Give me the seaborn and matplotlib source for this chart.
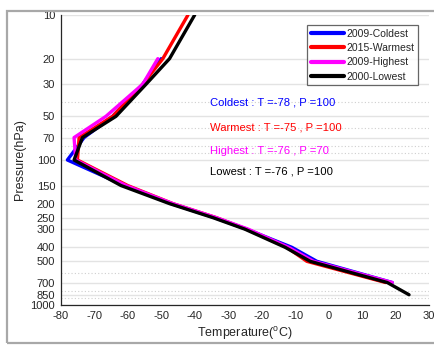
import numpy as np
import pandas as pd
import seaborn as sns
import matplotlib.pyplot as plt
from matplotlib.patches import Rectangle
from matplotlib.ticker import FixedLocator, FixedFormatter, NullFormatter

# Pressure levels (hPa) and temperature profiles (deg C)
p_levels = [850, 700, 500, 400, 300, 250, 200, 150, 100, 70, 50, 30, 20, 10]
coldest_2009 = [np.nan, 19, -3.5, -11, -24.5, -34, -47, -61, -78, -73, -64.5, -55.5, -50, np.nan]
warmest_2015 = [np.nan, 17, -6.5, -12.5, -24.5, -33.5, -46.5, -60, -75, -74.5, -64.5, -55.5, -49.5, -42]
highest_2009 = [np.nan, 19, -4.5, -12, -24, -33.5, -46.5, -60.5, -75.5, -76, -66.5, -55.5, -51, np.nan]
lowest_2000 = [24, 17.5, -5.5, -13, -25, -34.5, -47.5, -62, -76, -73.5, -63.5, -54.5, -47.5, -40]

series_names = ["2009-Coldest", "2015-Warmest", "2009-Highest", "2000-Lowest"]
series_colors = ["#0000ff", "#ff0000", "#ff00ff", "#000000"]

# Tropopause summaries
notes = ["Coldest : T =-78 , P =100", "Warmest : T =-75 , P =100",
         "Highest : T =-76 , P =70", "Lowest : T =-76 , P =100"]
note_pressure = [40, 60, 87, 120]

major_ticks = [10, 20, 30, 50, 70, 100, 150, 200, 250, 300, 400, 500, 700, 850, 1000]
minor_ticks = [40, 60, 80, 90, 600, 800, 900]
x_ticks = list(range(-80, 31, 10))

rows = []
for name, temps in zip(series_names, [coldest_2009, warmest_2015, highest_2009, lowest_2000]):
    for p, t in zip(p_levels, temps):
        if not np.isnan(t):
            rows.append({"Temperature": t, "Pressure": p, "Profile": name})
df = pd.DataFrame(rows)

sns.set_theme(style="white")
plt.rcParams["font.family"] = ["Liberation Sans", "DejaVu Sans"]
plt.rcParams["mathtext.fontset"] = "custom"
plt.rcParams["mathtext.rm"] = "Liberation Sans"
plt.rcParams["axes.unicode_minus"] = False

fig = plt.figure(figsize=(4.35, 3.45), dpi=100)
ax = fig.add_axes([0.1395, 0.116, 0.847, 0.8405])

# outer panel frame
fig.patches.append(Rectangle((0.017, 0.006), 1.2, 0.962, transform=fig.transFigure,
                             fill=False, edgecolor="#a8a8a8", linewidth=1.6, zorder=0))

sns.lineplot(data=df, x="Temperature", y="Pressure", hue="Profile",
             hue_order=series_names, palette=series_colors, estimator=None,
             sort=False, linewidth=2.4, ax=ax, legend=True)

ax.set_yscale("log")
ax.set_ylim(1000, 10)
ax.set_xlim(-80, 30)
ax.yaxis.set_major_locator(FixedLocator(major_ticks))
ax.yaxis.set_major_formatter(FixedFormatter([str(v) for v in major_ticks]))
ax.yaxis.set_minor_locator(FixedLocator(minor_ticks))
ax.yaxis.set_minor_formatter(NullFormatter())
ax.set_xticks(x_ticks)

ax.grid(False)
for v in major_ticks:
    ax.axhline(v, color="#e3e3e3", linewidth=1.0, zorder=0)
for v in minor_ticks:
    ax.axhline(v, color="#cfcfcf", linewidth=0.8, linestyle=(0, (1, 2)), zorder=0)

for s in ["top", "right"]:
    ax.spines[s].set_visible(False)
for s in ["left", "bottom"]:
    ax.spines[s].set_color("#262626")
    ax.spines[s].set_linewidth(0.9)

ax.tick_params(axis="both", which="both", direction="in", colors="#262626",
               labelsize=8, labelcolor="#262626")
ax.tick_params(axis="x", which="major", length=4, width=0.8, pad=4.5)
ax.tick_params(axis="y", which="major", length=3, width=0.8, pad=4)
ax.tick_params(axis="y", which="minor", length=3, width=0.8)

ax.set_xlabel("Temperature($^{\\mathrm{o}}$C)", fontsize=9, color="#262626", labelpad=3)
ax.set_ylabel("Pressure(hPa)", fontsize=9, color="#262626", labelpad=3)

for text, p, c in zip(notes, note_pressure, series_colors):
    ax.text(-35.5, p, text, color=c, fontsize=8.1, va="center", ha="left")

leg = ax.legend(loc="upper right", bbox_to_anchor=(0.971, 0.9655), fontsize=7.5,
                frameon=True, fancybox=False, handlelength=3.2, handletextpad=0.26,
                borderpad=0.35, labelspacing=0.42, borderaxespad=0)
leg.get_frame().set_edgecolor("#404040")
leg.get_frame().set_linewidth(0.9)
for h in leg.get_lines():
    h.set_linewidth(3)

fig.savefig("out.png", dpi=100)
